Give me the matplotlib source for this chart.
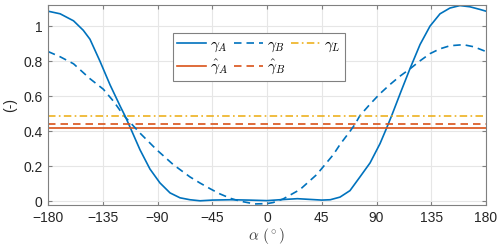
import matplotlib.pyplot as plt

plt.rcParams['font.family'] = ['Liberation Sans', 'DejaVu Sans']
plt.rcParams['mathtext.fontset'] = 'cm'

# values
alpha_A = [-180, -170, -159, -151, -145.5, -137.3, -129, -120.8, -116.7, -112.3, -104.4,
           -96.2, -88, -79.7, -71.5, -63.3, -55, -45, -30, -15, 0, 15, 25, 35, 45, 52,
           60, 68.2, 76.4, 84.7, 92.9, 98.4, 102.5, 110, 117.5, 125.8, 134, 142.2,
           150.4, 158.6, 166.8, 175, 180]
gamma_A = [1.085, 1.07, 1.03, 0.976, 0.925, 0.80, 0.665, 0.545, 0.488, 0.42, 0.295,
           0.185, 0.106, 0.049, 0.021, 0.01, 0.004, 0.008, 0.01, 0.008, 0.005, 0.012,
           0.016, 0.012, 0.008, 0.01, 0.025, 0.062, 0.14, 0.22, 0.33, 0.42, 0.49, 0.625,
           0.757, 0.895, 1.0, 1.07, 1.103, 1.117, 1.11, 1.095, 1.085]

alpha_B = [-180, -170, -159, -145.5, -134.5, -126, -118.1, -104.4, -90.7, -77, -63.3,
           -55, -46, -38.6, -30, -22.2, -10, 0, 5, 13.4, 27.1, 40.8, 54.5, 60, 68.2,
           72.3, 76.4, 84.7, 92.9, 101.1, 109, 117.5, 125.8, 134, 142, 150.4, 161.4,
           170, 180]
gamma_B = [0.855, 0.825, 0.785, 0.70, 0.64, 0.57, 0.493, 0.39, 0.295, 0.21, 0.14,
           0.105, 0.07, 0.043, 0.018, 0.002, -0.014, -0.012, -0.006, 0.015, 0.068, 0.153,
           0.267, 0.325, 0.40, 0.44, 0.49, 0.555, 0.615, 0.667, 0.713, 0.756, 0.802,
           0.843, 0.87, 0.888, 0.894, 0.882, 0.855]

gamma_L = 0.49
gamma_A_hat = 0.42
gamma_B_hat = 0.439

blue = '#0072BD'
orange = '#D95319'
yellow = '#EDB120'

fig = plt.figure(figsize=(5, 2.52), dpi=100)
ax = fig.add_axes([0.096, 0.1865, 0.876, 0.7935])

ax.plot(alpha_A, gamma_A, color=blue, lw=1.2, label=r'$\gamma_A$')
ax.axhline(gamma_A_hat, color=orange, lw=1.2, label=r'$\hat{\gamma}_A$')
ax.plot(alpha_B, gamma_B, color=blue, lw=1.2, ls=(0, (4.5, 3)), label=r'$\gamma_B$')
ax.axhline(gamma_B_hat, color=orange, lw=1.2, ls=(0, (4.5, 3)), label=r'$\hat{\gamma}_B$')
ax.axhline(gamma_L, color=yellow, lw=1.2, ls=(0, (4.5, 2, 1, 2)), label=r'$\gamma_L$')

ax.set_xlim(-180, 180)
ax.set_ylim(-0.02, 1.12)
ax.set_xticks(range(-180, 181, 45))
ax.set_yticks([0, 0.2, 0.4, 0.6, 0.8, 1])
ax.set_yticklabels(['0', '0.2', '0.4', '0.6', '0.8', '1'])
ax.grid(True, color='#e6e6e6', lw=0.8)
ax.set_axisbelow(True)
ax.tick_params(direction='in', top=True, right=True, length=3, labelsize=10,
               color='#808080', labelcolor='#262626', pad=4)
for s in ax.spines.values():
    s.set_color('#808080')
    s.set_linewidth(0.8)

ax.set_xlabel(r'$\alpha\ (^\circ)$', fontsize=11, color='#404040', labelpad=1)
ax.set_ylabel('(-)', fontsize=10, color='#262626', labelpad=4)

leg = ax.legend(ncol=3, loc='upper left', bbox_to_anchor=(0.285, 0.86), fontsize=11,
                handlelength=1.9, handletextpad=0.25, columnspacing=0.35,
                borderpad=0.3, labelspacing=0.25, fancybox=False, framealpha=1,
                edgecolor='#808080', borderaxespad=0)
leg.get_frame().set_linewidth(0.8)

fig.savefig('out.png', dpi=100)
